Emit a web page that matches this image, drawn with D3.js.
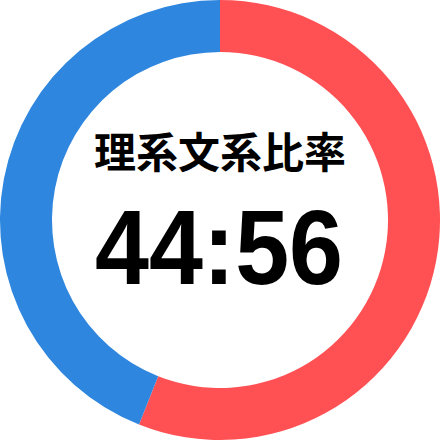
<!DOCTYPE html>
<html><head><meta charset="utf-8">
<script src="https://cdn.jsdelivr.net/npm/d3@7"></script>
<style>html,body{margin:0;padding:0;background:#fff;}svg{display:block;}</style>
</head><body>
<script>
const categories = ["理系", "文系"];
const values = [44, 56];
const colors = ["#2e86de", "#ff5053"];
const title = "理系文系比率";

const W = 440, H = 440, R = 220, r = 168;
const svg = d3.select("body").append("svg").attr("width", W).attr("height", H);
const g = svg.append("g").attr("transform", `translate(${W/2},${H/2})`);

// red (文系) from top clockwise, blue (理系) after it
const order = [1, 0];
const pie = d3.pie().sort(null).value(i => values[i]);
const arcs = pie(order);
const arc = d3.arc().innerRadius(r).outerRadius(R);
g.selectAll("path").data(arcs).join("path")
  .attr("d", arc)
  .attr("fill", d => colors[d.data]);

g.append("text").text(title)
  .attr("x", 0).attr("y", -52)
  .attr("text-anchor", "middle")
  .attr("font-family", "'Noto Sans CJK JP'")
  .attr("font-weight", "bold")
  .attr("font-size", 42)
  .attr("fill", "#000");

g.append("text").text(values.join(":"))
  .attr("x", -1).attr("y", 64)
  .attr("text-anchor", "middle")
  .attr("font-family", "'Liberation Sans', Arial, sans-serif")
  .attr("font-weight", "bold")
  .attr("font-size", 106)
  .attr("textLength", 248)
  .attr("lengthAdjust", "spacingAndGlyphs")
  .attr("fill", "#000");
</script>
</body></html>
